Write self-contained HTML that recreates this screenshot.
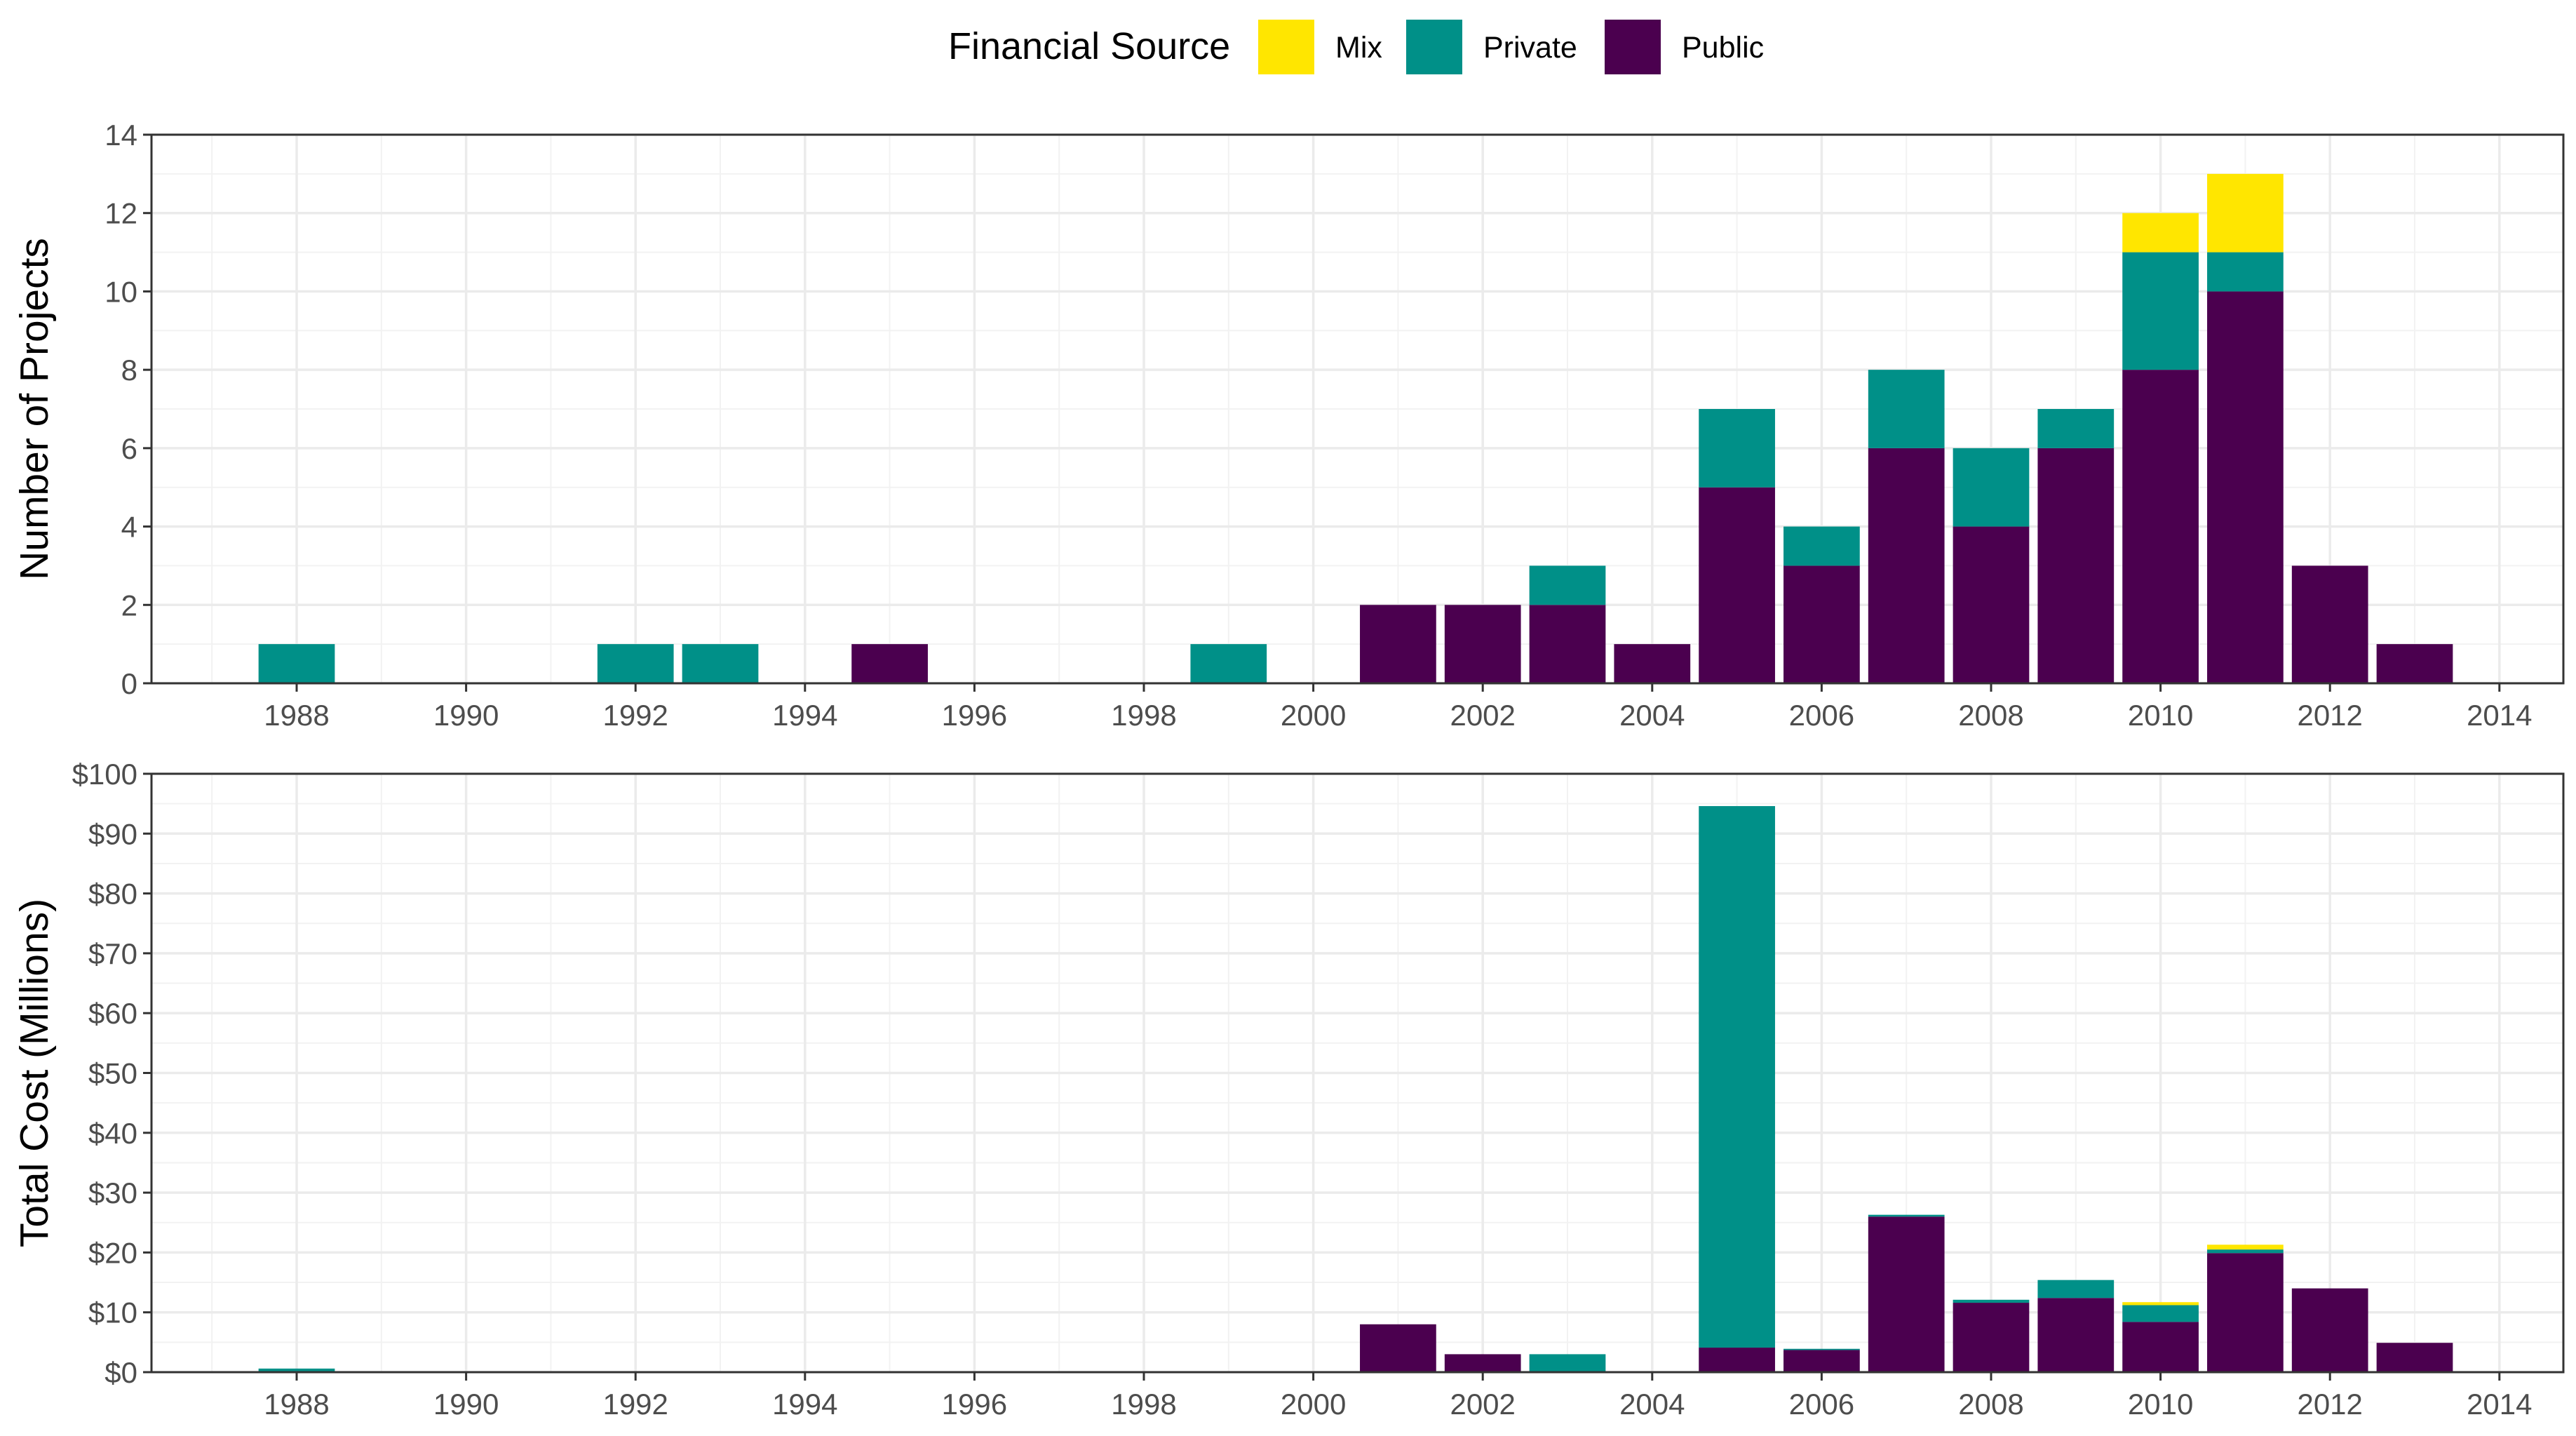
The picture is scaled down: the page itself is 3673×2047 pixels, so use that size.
<!DOCTYPE html>
<html><head><meta charset="utf-8"><style>
html,body{margin:0;padding:0;background:#fff;}
svg{display:block;font-family:"Liberation Sans",sans-serif;}
</style></head><body>
<svg id="chart" width="3673" height="2047" viewBox="0 0 3673 2047" xmlns="http://www.w3.org/2000/svg">
<g id="legend">
<text x="1352" y="84" font-size="54" fill="#000">Financial Source</text>
<rect x="1794" y="28" width="80" height="78" fill="#ffe600"/>
<text x="1904" y="82" font-size="43" fill="#000">Mix</text>
<rect x="2005" y="28" width="80" height="78" fill="#009088"/>
<text x="2115" y="82" font-size="43" fill="#000">Private</text>
<rect x="2288" y="28" width="80" height="78" fill="#4b004f"/>
<text x="2398" y="82" font-size="43" fill="#000">Public</text>
</g>
<g id="top"></g>
<g id="bot"></g>
</svg>
<script>
const years = [1988,1992,1993,1995,1999,2001,2002,2003,2004,2005,2006,2007,2008,2009,2010,2011,2012,2013];
const countPublic  = [0,0,0,1,0,2,2,2,1,5,3,6,4,6,8,10,3,1];
const countPrivate = [1,1,1,0,1,0,0,1,0,2,1,2,2,1,3,1,0,0];
const countMix     = [0,0,0,0,0,0,0,0,0,0,0,0,0,0,1,2,0,0];
const costPublic   = [0,0,0,0,0,8,3,0,0,4.1,3.7,26,11.6,12.4,8.4,19.9,14,4.9];
const costPrivate  = [0.6,0,0,0,0,0,0,3,0,90.5,0.2,0.3,0.5,3,2.8,0.6,0,0];
const costMix      = [0,0,0,0,0,0,0,0,0,0,0,0,0,0,0.5,0.8,0,0];
const xTicks = [1988,1990,1992,1994,1996,1998,2000,2002,2004,2006,2008,2010,2012,2014];
const topTicks = [0,2,4,6,8,10,12,14];
const botTicks = [0,10,20,30,40,50,60,70,80,90,100];

const NS="http://www.w3.org/2000/svg";
const L=216,R=3655;
const xAt=y=>423+(y-1988)*120.8;
const BW=0.9*120.8;
const C={pub:"#4b004f",pri:"#009088",mix:"#ffe600"};
function mk(tag,attrs,parent){const e=document.createElementNS(NS,tag);for(const k in attrs)e.setAttribute(k,attrs[k]);parent.appendChild(e);return e;}

function panel(g,top,bot,max,ticks,minorStep,fmt,series,title,namePrefix){
  const yAt=v=>bot-(v/max)*(bot-top);
  for(let v=minorStep;v<max;v+=minorStep*2){
    const l=mk("line",{x1:L,x2:R,y1:yAt(v),y2:yAt(v),stroke:"#f2f2f2","stroke-width":2},g);
    
    
  }
  for(let yr=1987;yr<=2013;yr+=2){
    const l=mk("line",{x1:xAt(yr),x2:xAt(yr),y1:top,y2:bot,stroke:"#f2f2f2","stroke-width":2},g);
    
    
  }
  ticks.forEach(v=>{
    const l=mk("line",{x1:L,x2:R,y1:yAt(v),y2:yAt(v),stroke:"#ebebeb","stroke-width":3.5},g);
    
    
    const t=mk("line",{x1:L-12,x2:L,y1:yAt(v),y2:yAt(v),stroke:"#333","stroke-width":3},g);
    
    
    const tx=mk("text",{x:L-20,y:yAt(v)+15,"text-anchor":"end","font-size":42,fill:"#4d4d4d"},g);
    
    
    tx.textContent=fmt(v);
  });
  xTicks.forEach(yr=>{
    const l=mk("line",{x1:xAt(yr),x2:xAt(yr),y1:top,y2:bot,stroke:"#ebebeb","stroke-width":3.5},g);
    
    
    const t=mk("line",{x1:xAt(yr),x2:xAt(yr),y1:bot,y2:bot+12,stroke:"#333","stroke-width":3},g);
    
    
    const tx=mk("text",{x:xAt(yr),y:bot+60,"text-anchor":"middle","font-size":42,fill:"#4d4d4d"},g);
    
    
    tx.textContent=yr;
  });
  years.forEach((yr,i)=>{
    let base=0;
    [["pub",series[0]],["pri",series[1]],["mix",series[2]]].forEach(([k,arr])=>{
      const v=arr[i]; if(!v) return;
      const r=mk("rect",{x:xAt(yr)-BW/2,y:yAt(base+v),width:BW,height:yAt(base)-yAt(base+v),fill:C[k]},g);
      
      
      base+=v;
    });
  });
  const b=mk("rect",{x:L,y:top,width:R-L,height:bot-top,fill:"none",stroke:"#333","stroke-width":3},g);
  
  
  const cy=(top+bot)/2;
  const at=mk("text",{x:0,y:0,transform:`translate(68,${cy}) rotate(-90)`,"text-anchor":"middle","font-size":57,fill:"#000"},g);
  
  
  at.textContent=title;
}
panel(document.getElementById("top"),192,974,14,topTicks,1,v=>String(v),[countPublic,countPrivate,countMix],"Number of Projects","count");
panel(document.getElementById("bot"),1103,1956,100,botTicks,5,v=>"$"+v,[costPublic,costPrivate,costMix],"Total Cost (Millions)","cost");
</script>
</body></html>
